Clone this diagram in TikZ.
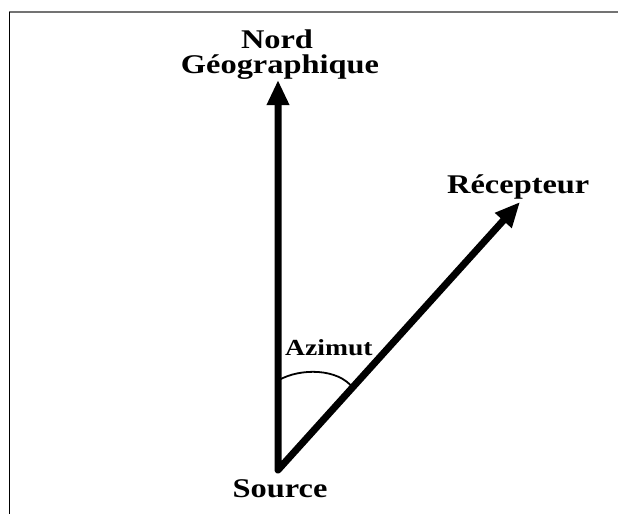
\documentclass[tikz,border=0pt]{standalone}
\usepackage{fontspec}
\setmainfont{Liberation Serif}[FakeStretch=1.2]
\usetikzlibrary{arrows.meta}
\tikzset{
  lbl/.style={inner sep=0pt, font=\bfseries\fontsize{27}{30}\selectfont},
  smalllbl/.style={inner sep=0pt, font=\bfseries\fontsize{23}{26}\selectfont},
  bigarrow/.style={line width=7pt, line join=round, {Triangle[length=25pt,width=21pt]}-{Triangle[length=25pt,width=21pt]}},
  arcline/.style={line width=1.8pt},
}
\begin{document}
\begin{tikzpicture}[x=1pt,y=-1pt]
\useasboundingbox (0,0) rectangle (618,514);
\fill[white] (0,0) rectangle (618,514);
% frame
\draw[black!55, line width=1.6pt] (9,12) -- (618,12);
\draw[black, line width=1pt] (9,12) -- (9,514);
% points
\coordinate (src) at (278,470);
\coordinate (north) at (278,80);
\coordinate (rec) at (520,202);
\coordinate (az1) at (279,380);
\coordinate (az2) at (353,388);
% arrows
\draw[bigarrow] (north) -- (src) -- (rec);
\draw[arcline] (az1) .. controls (300,368) and (338,368) .. (az2);
% labels
\node[lbl, anchor=base] (nord) at (277,48) {Nord};
\node[lbl, anchor=base] (geo) at (280,73) {Géographique};
\node[lbl, anchor=base] (source) at (280,497) {Source};
\node[lbl, anchor=base west] (recept) at (447,193) {Récepteur};
\node[smalllbl, anchor=base west] (azimut) at (285,355) {Azimut};
\end{tikzpicture}
\end{document}
